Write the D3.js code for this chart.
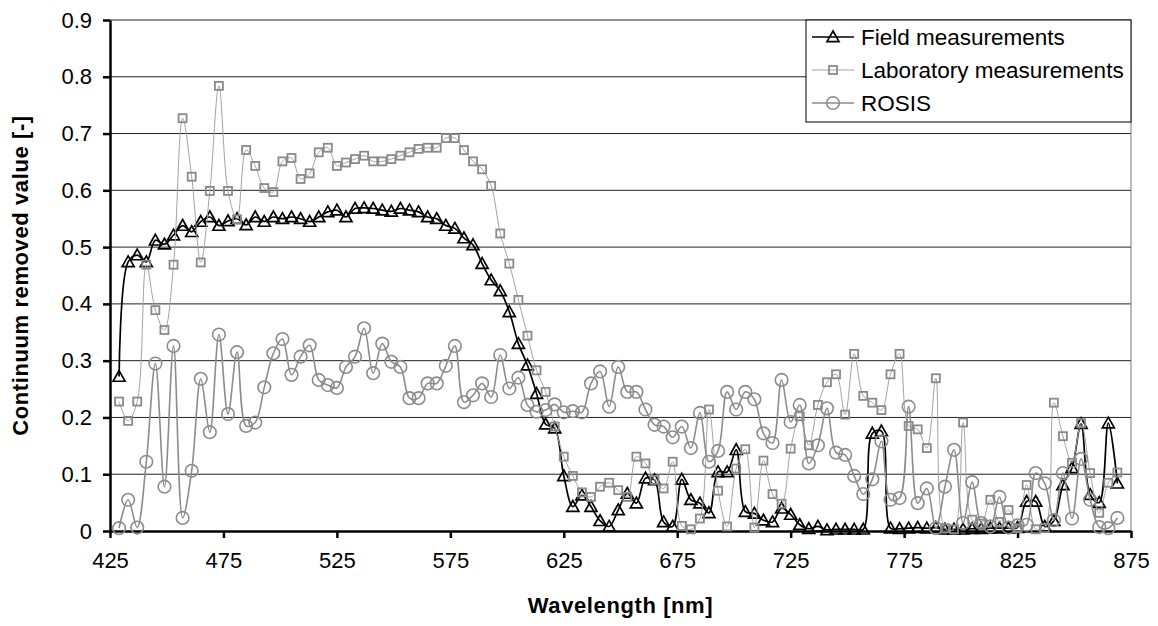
<!DOCTYPE html>
<html>
<head>
<meta charset="utf-8">
<script src="https://cdn.jsdelivr.net/npm/d3@7"></script>
<style>
  body { margin: 0; background: #fff; }
  text { font-family: "Liberation Sans", Arial, sans-serif; }
</style>
</head>
<body>
<svg width="1158" height="626"></svg>
<script>
// wavelength of every band [nm]
const wavelengths = [
  429, 433, 437, 441, 445, 449, 453, 457, 461, 465,
  469, 473, 477, 481, 485, 489, 493, 497, 501, 505,
  509, 513, 517, 521, 525, 529, 533, 537, 541, 545,
  549, 553, 557, 561, 565, 569, 573, 577, 581, 585,
  589, 593, 597, 601, 605, 609, 613, 617, 621, 625,
  629, 633, 637, 641, 645, 649, 653, 657, 661, 665,
  669, 673, 677, 681, 685, 689, 693, 697, 701, 705,
  709, 713, 717, 721, 725, 729, 733, 737, 741, 745,
  749, 753, 757, 761, 765, 769, 773, 777, 781, 785,
  789, 793, 797, 801, 805, 809, 813, 817, 821, 825,
  829, 833, 837, 841, 845, 849, 853, 857, 861, 865, 869
];

const field = [
  0.272, 0.474, 0.486, 0.474, 0.512, 0.505, 0.521, 0.538, 0.527, 0.545,
  0.553, 0.538, 0.546, 0.550, 0.539, 0.553, 0.545, 0.553, 0.550, 0.553,
  0.550, 0.545, 0.553, 0.562, 0.565, 0.553, 0.568, 0.569, 0.568, 0.565,
  0.563, 0.568, 0.565, 0.562, 0.553, 0.550, 0.538, 0.533, 0.516, 0.504,
  0.471, 0.442, 0.423, 0.386, 0.330, 0.292, 0.242, 0.188, 0.181, 0.097,
  0.043, 0.063, 0.043, 0.018, 0.008, 0.037, 0.066, 0.049, 0.093, 0.090,
  0.016, 0.008, 0.091, 0.055, 0.049, 0.032, 0.104, 0.104, 0.143, 0.034,
  0.031, 0.019, 0.016, 0.040, 0.029, 0.011, 0.004, 0.008, 0.002, 0.003,
  0.003, 0.003, 0.003, 0.172, 0.176, 0.005, 0.004, 0.005, 0.006, 0.005,
  0.006, 0.003, 0.003, 0.003, 0.004, 0.004, 0.005, 0.005, 0.005, 0.006,
  0.052, 0.052, 0.008, 0.018, 0.081, 0.111, 0.189, 0.064, 0.050, 0.190, 0.084
];

const laboratory = [
  0.228, 0.194, 0.228, 0.469, 0.389, 0.354, 0.469, 0.727, 0.624, 0.473,
  0.599, 0.784, 0.599, 0.549, 0.671, 0.643, 0.604, 0.597, 0.651, 0.657,
  0.620, 0.630, 0.667, 0.675, 0.643, 0.649, 0.655, 0.661, 0.651, 0.651,
  0.655, 0.661, 0.667, 0.673, 0.675, 0.675, 0.692, 0.692, 0.671, 0.651,
  0.637, 0.608, 0.524, 0.471, 0.407, 0.344, 0.283, 0.245, 0.184, 0.131,
  0.097, 0.068, 0.060, 0.078, 0.085, 0.072, 0.060, 0.131, 0.119, 0.090,
  0.075, 0.122, 0.009, 0.003, 0.022, 0.214, 0.071, 0.008, 0.110, 0.144,
  0.006, 0.124, 0.065, 0.048, 0.145, 0.202, 0.151, 0.222, 0.262, 0.276,
  0.205, 0.312, 0.238, 0.226, 0.213, 0.276, 0.312, 0.185, 0.179, 0.146,
  0.269, 0.005, 0.003, 0.191, 0.020, 0.013, 0.055, 0.016, 0.037, 0.005,
  0.081, 0.003, 0.005, 0.226, 0.167, 0.120, 0.190, 0.102, 0.032, 0.085, 0.103
];

const rosis = [
  0.005, 0.055, 0.006, 0.122, 0.295, 0.078, 0.326, 0.023, 0.106, 0.268,
  0.174, 0.346, 0.206, 0.315, 0.185, 0.191, 0.253, 0.313, 0.338, 0.275,
  0.307, 0.327, 0.266, 0.257, 0.252, 0.289, 0.307, 0.357, 0.278, 0.330,
  0.298, 0.289, 0.234, 0.234, 0.260, 0.260, 0.291, 0.326, 0.227, 0.239,
  0.260, 0.236, 0.310, 0.251, 0.270, 0.222, 0.210, 0.213, 0.223, 0.209,
  0.211, 0.209, 0.260, 0.281, 0.219, 0.289, 0.245, 0.245, 0.214, 0.187,
  0.184, 0.165, 0.184, 0.146, 0.208, 0.122, 0.141, 0.245, 0.214, 0.245,
  0.232, 0.172, 0.155, 0.266, 0.192, 0.222, 0.119, 0.151, 0.216, 0.138,
  0.134, 0.097, 0.065, 0.091, 0.158, 0.055, 0.058, 0.219, 0.049, 0.075,
  0.005, 0.078, 0.143, 0.014, 0.086, 0.014, 0.008, 0.060, 0.006, 0.010,
  0.011, 0.102, 0.084, 0.019, 0.102, 0.022, 0.127, 0.055, 0.007, 0.005, 0.023
];

const xTicks = [425, 475, 525, 575, 625, 675, 725, 775, 825, 875];
const yTicks = [0, 0.1, 0.2, 0.3, 0.4, 0.5, 0.6, 0.7, 0.8, 0.9];
const seriesNames = ["Field measurements", "Laboratory measurements", "ROSIS"];

var plotLeft = 110, plotRight = 1131, plotTop = 20, plotBottom = 531;

var svg = d3.select("svg");
var x = d3.scaleLinear().domain([425, 875]).range([plotLeft, plotRight]);
var y = d3.scaleLinear().domain([0, 0.9]).range([plotBottom, plotTop]);

// grid lines
svg.append("g")
  .selectAll("line")
  .data(yTicks.slice(1))
  .enter().append("line")
    .attr("x1", plotLeft).attr("x2", plotRight)
    .attr("y1", d => y(d)).attr("y2", d => y(d))
    .attr("stroke", "#222").attr("stroke-width", 1);

// right border of plot area
svg.append("line")
  .attr("x1", plotRight).attr("x2", plotRight).attr("y1", plotTop).attr("y2", plotBottom)
  .attr("stroke", "#777").attr("stroke-width", 1);

// axes
var xAxis = svg.append("g")
  .attr("transform", "translate(0," + plotBottom + ")")
  .call(d3.axisBottom(x).tickValues(xTicks).tickSize(7).tickPadding(14).tickSizeOuter(0));
var yAxis = svg.append("g")
  .attr("transform", "translate(" + plotLeft + ",0)")
  .call(d3.axisLeft(y).tickValues(yTicks).tickSize(7).tickPadding(11).tickSizeOuter(0)
    .tickFormat(d => d === 0 ? "0" : d3.format(".1f")(d)));

[xAxis, yAxis].forEach(function(a) {
  a.select(".domain").attr("stroke", "#000").attr("stroke-width", 2.5);
  a.selectAll(".tick line").attr("stroke", "#000").attr("stroke-width", 2.5);
  a.selectAll(".tick text")
    .attr("font-family", "Liberation Sans, Arial, sans-serif")
    .attr("font-size", 22).attr("fill", "#000");
});

// axis titles
svg.append("text")
  .attr("x", (plotLeft + plotRight) / 2).attr("y", 613)
  .attr("text-anchor", "middle")
  .attr("font-size", 22).attr("font-weight", "bold").attr("letter-spacing", 0.6)
  .text("Wavelength [nm]");
svg.append("text")
  .attr("transform", "translate(28," + (plotTop + plotBottom) / 2 + ") rotate(-90)")
  .attr("text-anchor", "middle")
  .attr("font-size", 22).attr("font-weight", "bold").attr("letter-spacing", 0.6)
  .text("Continuum removed value [-]");

// series
var pts = function(vals) { return vals.map((v, i) => [wavelengths[i], v]); };
var line = d3.line()
  .x(d => x(d[0])).y(d => y(d[1]))
  .curve(d3.curveCatmullRom.alpha(0.5));

var triangle = "M0,-6.5L6,4.2L-6,4.2Z";

function drawMarker(g, kind, cx, cy) {
  if (kind === "tri") {
    g.append("path").attr("d", triangle)
      .attr("transform", "translate(" + cx + "," + (cy + 0.5) + ")")
      .attr("fill", "none").attr("stroke", "#000").attr("stroke-width", 1.7);
  } else if (kind === "sq") {
    g.append("rect").attr("x", cx - 4).attr("y", cy - 4).attr("width", 8).attr("height", 8)
      .attr("fill", "none").attr("stroke", "#8a8a8a").attr("stroke-width", 1.8);
  } else {
    g.append("circle").attr("cx", cx).attr("cy", cy).attr("r", 6.3)
      .attr("fill", "none").attr("stroke", "#8c8c8c").attr("stroke-width", 1.6);
  }
}

var series = [
  { vals: field, kind: "tri", color: "#000", width: 1.7 },
  { vals: laboratory, kind: "sq", color: "#a3a3a3", width: 1 },
  { vals: rosis, kind: "circ", color: "#8c8c8c", width: 1.6 }
];

series.forEach(function(s) {
  var g = svg.append("g");
  g.append("path").datum(pts(s.vals))
    .attr("d", line)
    .attr("fill", "none").attr("stroke", s.color).attr("stroke-width", s.width);
  pts(s.vals).forEach(d => drawMarker(g, s.kind, x(d[0]), y(d[1])));
});

// legend
var lg = svg.append("g"), lgLeft = 806;
lg.append("rect").attr("x", lgLeft).attr("y", plotTop).attr("width", plotRight - lgLeft).attr("height", 102)
  .attr("fill", "#fff").attr("stroke", "#000").attr("stroke-width", 1);
series.forEach(function(s, i) {
  var base = 45 + i * 33, cy = base - 8;
  lg.append("line").attr("x1", lgLeft + 6).attr("x2", lgLeft + 48).attr("y1", cy).attr("y2", cy)
    .attr("stroke", s.color).attr("stroke-width", s.width);
  drawMarker(lg, s.kind, lgLeft + 27, cy);
  lg.append("text").attr("x", lgLeft + 55).attr("y", base)
    .attr("font-size", 22.5).text(seriesNames[i]);
});
</script>
</body>
</html>
